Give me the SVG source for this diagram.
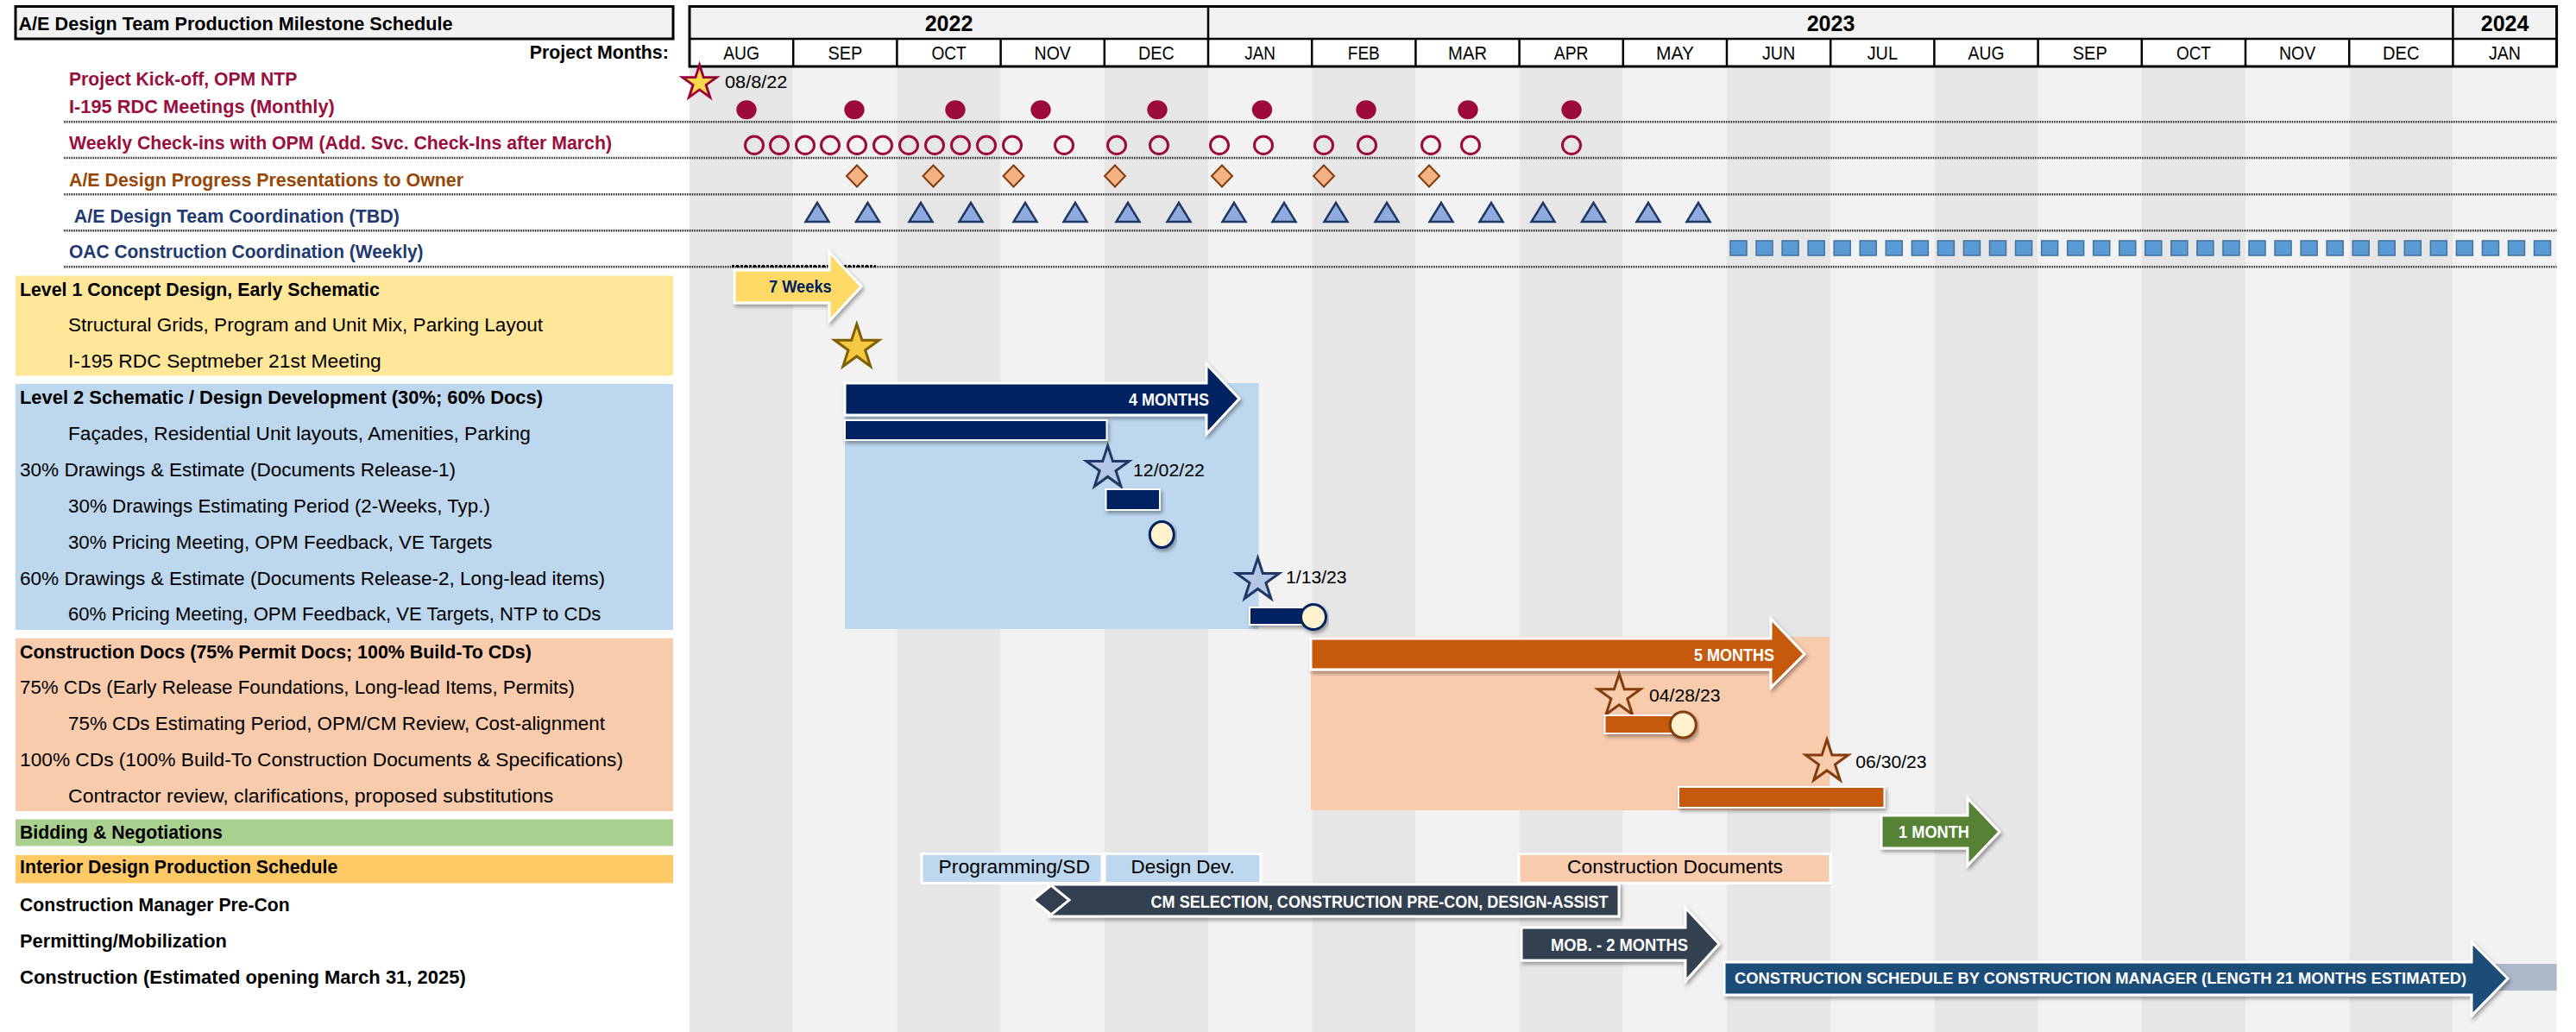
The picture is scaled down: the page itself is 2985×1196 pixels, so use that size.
<svg xmlns="http://www.w3.org/2000/svg" xmlns:xlink="http://www.w3.org/1999/xlink" width="2985" height="1196" viewBox="0 0 2985 1196">
<style>
text{font-family:'Liberation Sans Narrow','Liberation Sans',Arial,sans-serif;font-size:22px;fill:#000}
.b{font-weight:700}
.yr{font-size:25px;font-weight:700}
.dt{font-size:20px}
.wt{fill:#fff;font-weight:700;font-size:20px}
.crim{fill:#9a0f3e}
.brn{fill:#974706}
.nav{fill:#1f3a70}
.sep{stroke:#1a1a1a;stroke-width:2.5;stroke-dasharray:1 1;fill:none}
.arr{stroke:#fff;stroke-width:3;filter:url(#sh)}
.bar{stroke:#fff;stroke-width:2;filter:url(#sh)}
.mc{fill:#9b0a3a}
.wc{fill:none;stroke:#9b0a3a;stroke-width:3}
.dia{fill:#f4b183;stroke:#843c0c;stroke-width:2}
.tri{fill:#8faadc;stroke:#1f3864;stroke-width:2.5}
.sq{fill:#5b9bd5;stroke:#41719c;stroke-width:1.5}
.dk{fill:#e6e6e6}
.lt{fill:#f2f2f2}
</style>
<defs>
<filter id="sh" x="-10%" y="-30%" width="120%" height="170%">
<feDropShadow dx="2" dy="3" stdDeviation="2" flood-color="#000" flood-opacity="0.35"/>
</filter>
<path id="star" d="M0,-26 L5.84,-8.03 L24.73,-8.03 L9.45,3.07 L15.29,21.03 L0,9.93 L-15.29,21.03 L-9.45,3.07 L-24.73,-8.03 L-5.84,-8.03 Z"/>
</defs>
<rect width="2985" height="1196" fill="#fff"/>

<g id="columns">
<rect class="dk" x="799" y="77" width="120.2" height="1119"/>
<rect class="lt" x="919.2" y="77" width="120.2" height="1119"/>
<rect class="dk" x="1039.4" y="77" width="120.2" height="1119"/>
<rect class="lt" x="1159.6" y="77" width="120.2" height="1119"/>
<rect class="dk" x="1279.8" y="77" width="120.2" height="1119"/>
<rect class="lt" x="1400" y="77" width="120.2" height="1119"/>
<rect class="dk" x="1520.2" y="77" width="120.2" height="1119"/>
<rect class="lt" x="1640.4" y="77" width="120.2" height="1119"/>
<rect class="dk" x="1760.6" y="77" width="120.2" height="1119"/>
<rect class="lt" x="1880.8" y="77" width="120.2" height="1119"/>
<rect class="dk" x="2001" y="77" width="120.2" height="1119"/>
<rect class="lt" x="2121.2" y="77" width="120.2" height="1119"/>
<rect class="dk" x="2241.4" y="77" width="120.2" height="1119"/>
<rect class="lt" x="2361.6" y="77" width="120.2" height="1119"/>
<rect class="dk" x="2481.8" y="77" width="120.2" height="1119"/>
<rect class="lt" x="2602" y="77" width="120.2" height="1119"/>
<rect class="dk" x="2722.2" y="77" width="120.2" height="1119"/>
<rect class="lt" x="2842.4" y="77" width="120.2" height="1119"/>
</g>

<g id="title">
<rect x="18" y="7.5" width="762" height="37.5" fill="#f2f2f2" stroke="#000" stroke-width="3"/>
<text class="b" x="21.5" y="35" textLength="503" lengthAdjust="spacingAndGlyphs">A/E Design Team Production Milestone Schedule</text>
<text class="b" x="613.8" y="68" textLength="161" lengthAdjust="spacingAndGlyphs">Project Months:</text>
</g>

<g id="header">
<rect x="799" y="7.5" width="2163.6" height="37.5" fill="#f2f2f2"/>
<rect x="799" y="45" width="2163.6" height="32" fill="#fff"/>
<g stroke="#000" stroke-width="2.5">
<line x1="1400" y1="7" x2="1400" y2="45"/>
<line x1="2842.4" y1="7" x2="2842.4" y2="45"/>
<line x1="799" y1="45" x2="2962.6" y2="45"/>
<line x1="919.2" y1="45" x2="919.2" y2="77"/>
<line x1="1039.4" y1="45" x2="1039.4" y2="77"/>
<line x1="1159.6" y1="45" x2="1159.6" y2="77"/>
<line x1="1279.8" y1="45" x2="1279.8" y2="77"/>
<line x1="1400" y1="45" x2="1400" y2="77"/>
<line x1="1520.2" y1="45" x2="1520.2" y2="77"/>
<line x1="1640.4" y1="45" x2="1640.4" y2="77"/>
<line x1="1760.6" y1="45" x2="1760.6" y2="77"/>
<line x1="1880.8" y1="45" x2="1880.8" y2="77"/>
<line x1="2001" y1="45" x2="2001" y2="77"/>
<line x1="2121.2" y1="45" x2="2121.2" y2="77"/>
<line x1="2241.4" y1="45" x2="2241.4" y2="77"/>
<line x1="2361.6" y1="45" x2="2361.6" y2="77"/>
<line x1="2481.8" y1="45" x2="2481.8" y2="77"/>
<line x1="2602" y1="45" x2="2602" y2="77"/>
<line x1="2722.2" y1="45" x2="2722.2" y2="77"/>
<line x1="2842.4" y1="45" x2="2842.4" y2="77"/>
</g>
<rect x="799" y="7.5" width="2163.6" height="69.5" fill="none" stroke="#000" stroke-width="3"/>
<text class="yr" x="1071.7" y="36" textLength="55.6" lengthAdjust="spacingAndGlyphs">2022</text>
<text class="yr" x="2093.7" y="36" textLength="55.6" lengthAdjust="spacingAndGlyphs">2023</text>
<text class="yr" x="2874.8" y="36" textLength="55.6" lengthAdjust="spacingAndGlyphs">2024</text>
<text x="838.2" y="68.5" textLength="41.8" lengthAdjust="spacingAndGlyphs">AUG</text>
<text x="959.4" y="68.5" textLength="39.8" lengthAdjust="spacingAndGlyphs">SEP</text>
<text x="1079.4" y="68.5" textLength="40.3" lengthAdjust="spacingAndGlyphs">OCT</text>
<text x="1198.6" y="68.5" textLength="42.3" lengthAdjust="spacingAndGlyphs">NOV</text>
<text x="1319" y="68.5" textLength="41.8" lengthAdjust="spacingAndGlyphs">DEC</text>
<text x="1442.3" y="68.5" textLength="35.7" lengthAdjust="spacingAndGlyphs">JAN</text>
<text x="1561.8" y="68.5" textLength="37" lengthAdjust="spacingAndGlyphs">FEB</text>
<text x="1678.1" y="68.5" textLength="44.9" lengthAdjust="spacingAndGlyphs">MAR</text>
<text x="1800.8" y="68.5" textLength="39.8" lengthAdjust="spacingAndGlyphs">APR</text>
<text x="1919" y="68.5" textLength="43.9" lengthAdjust="spacingAndGlyphs">MAY</text>
<text x="2042" y="68.5" textLength="38.3" lengthAdjust="spacingAndGlyphs">JUN</text>
<text x="2163.7" y="68.5" textLength="35.2" lengthAdjust="spacingAndGlyphs">JUL</text>
<text x="2280.6" y="68.5" textLength="41.8" lengthAdjust="spacingAndGlyphs">AUG</text>
<text x="2401.8" y="68.5" textLength="39.9" lengthAdjust="spacingAndGlyphs">SEP</text>
<text x="2522" y="68.5" textLength="39.9" lengthAdjust="spacingAndGlyphs">OCT</text>
<text x="2640.9" y="68.5" textLength="42.4" lengthAdjust="spacingAndGlyphs">NOV</text>
<text x="2761.1" y="68.5" textLength="42.4" lengthAdjust="spacingAndGlyphs">DEC</text>
<text x="2884" y="68.5" textLength="37" lengthAdjust="spacingAndGlyphs">JAN</text>
</g>

<g id="section-bgs">
<rect x="18" y="319.5" width="762" height="116" fill="#ffe699"/>
<rect x="18" y="445" width="762" height="285" fill="#bdd7ee"/>
<rect x="18" y="739.5" width="762" height="200.5" fill="#f8cbad"/>
<rect x="18" y="949.5" width="762" height="31" fill="#a9d08e"/>
<rect x="18" y="991" width="762" height="32.5" fill="#ffc966"/>
<rect x="979" y="444" width="479.6" height="285" fill="#bdd7ee"/>
<rect x="1519" y="738" width="601" height="201" fill="#f8cbad"/>
</g>

<g id="separators">
<line class="sep" x1="74" y1="141.3" x2="2962.6" y2="141.3"/>
<line class="sep" x1="74" y1="183" x2="2962.6" y2="183"/>
<line class="sep" x1="74" y1="225.3" x2="2962.6" y2="225.3"/>
<line class="sep" x1="74" y1="267.3" x2="2962.6" y2="267.3"/>
<line class="sep" x1="74" y1="309.3" x2="2962.6" y2="309.3"/>
<line x1="848" y1="308.5" x2="1015" y2="308.5" stroke="#111" stroke-width="3" stroke-dasharray="3 2"/>
</g>

<g id="labels">
<text class="b crim" x="80" y="99.3" textLength="264.4" lengthAdjust="spacingAndGlyphs">Project Kick-off, OPM NTP</text>
<text class="b crim" x="80" y="131" textLength="307.8" lengthAdjust="spacingAndGlyphs">I-195 RDC Meetings (Monthly)</text>
<text class="b crim" x="80" y="173.3" textLength="629" lengthAdjust="spacingAndGlyphs">Weekly Check-ins with OPM (Add. Svc. Check-Ins after March)</text>
<text class="b brn" x="80" y="215.7" textLength="457" lengthAdjust="spacingAndGlyphs">A/E Design Progress Presentations to Owner</text>
<text class="b nav" x="85.7" y="257.7" textLength="377.3" lengthAdjust="spacingAndGlyphs">A/E Design Team Coordination (TBD)</text>
<text class="b nav" x="80" y="299.3" textLength="410.6" lengthAdjust="spacingAndGlyphs">OAC Construction Coordination (Weekly)</text>
<text class="b" x="23" y="342.7" textLength="416.8" lengthAdjust="spacingAndGlyphs">Level 1 Concept Design, Early Schematic</text>
<text x="79" y="384" textLength="550" lengthAdjust="spacingAndGlyphs">Structural Grids, Program and Unit Mix, Parking Layout</text>
<text x="79" y="426" textLength="362.8" lengthAdjust="spacingAndGlyphs">I-195 RDC Septmeber 21st Meeting</text>
<text class="b" x="23" y="468.3" textLength="606" lengthAdjust="spacingAndGlyphs">Level 2 Schematic / Design Development (30%; 60% Docs)</text>
<text x="79" y="510" textLength="535.8" lengthAdjust="spacingAndGlyphs">Façades, Residential Unit layouts, Amenities, Parking</text>
<text x="23" y="551.7" textLength="505" lengthAdjust="spacingAndGlyphs">30% Drawings &amp; Estimate (Documents Release-1)</text>
<text x="79" y="594" textLength="488.9" lengthAdjust="spacingAndGlyphs">30% Drawings Estimating Period (2-Weeks, Typ.)</text>
<text x="79" y="636" textLength="491.4" lengthAdjust="spacingAndGlyphs">30% Pricing Meeting, OPM Feedback, VE Targets</text>
<text x="23" y="678.3" textLength="678" lengthAdjust="spacingAndGlyphs">60% Drawings &amp; Estimate (Documents Release-2, Long-lead items)</text>
<text x="79" y="719.3" textLength="617.4" lengthAdjust="spacingAndGlyphs">60% Pricing Meeting, OPM Feedback, VE Targets, NTP to CDs</text>
<text class="b" x="23" y="762.7" textLength="592.8" lengthAdjust="spacingAndGlyphs">Construction Docs (75% Permit Docs; 100% Build-To CDs)</text>
<text x="23" y="804" textLength="642.8" lengthAdjust="spacingAndGlyphs">75% CDs (Early Release Foundations, Long-lead Items, Permits)</text>
<text x="79" y="846" textLength="622" lengthAdjust="spacingAndGlyphs">75% CDs Estimating Period, OPM/CM Review, Cost-alignment</text>
<text x="23" y="887.7" textLength="699" lengthAdjust="spacingAndGlyphs">100% CDs (100% Build-To Construction Documents &amp; Specifications)</text>
<text x="79" y="930" textLength="562.3" lengthAdjust="spacingAndGlyphs">Contractor review, clarifications, proposed substitutions</text>
<text class="b" x="23" y="971.7" textLength="234.7" lengthAdjust="spacingAndGlyphs">Bidding &amp; Negotiations</text>
<text class="b" x="23" y="1011.7" textLength="368.3" lengthAdjust="spacingAndGlyphs">Interior Design Production Schedule</text>
<text class="b" x="23" y="1056" textLength="312.7" lengthAdjust="spacingAndGlyphs">Construction Manager Pre-Con</text>
<text class="b" x="23" y="1098.3" textLength="239.8" lengthAdjust="spacingAndGlyphs">Permitting/Mobilization</text>
<text class="b" x="23" y="1140" textLength="516.8" lengthAdjust="spacingAndGlyphs">Construction (Estimated opening March 31, 2025)</text>
</g>

<g id="kickoff">
<use xlink:href="#star" href="#star" transform="translate(810.6,96) scale(0.8)" fill="#f9d84a" stroke="#99003a" stroke-width="3.6"/>
<text class="dt" x="840" y="101.7" textLength="72.4" lengthAdjust="spacingAndGlyphs">08/8/22</text>
</g>

<g id="monthly-meetings">
<ellipse class="mc" cx="865" cy="127.3" rx="11.7" ry="11"/>
<ellipse class="mc" cx="990" cy="127.3" rx="11.7" ry="11"/>
<ellipse class="mc" cx="1107" cy="127.3" rx="11.7" ry="11"/>
<ellipse class="mc" cx="1206" cy="127.3" rx="11.7" ry="11"/>
<ellipse class="mc" cx="1341" cy="127.3" rx="11.7" ry="11"/>
<ellipse class="mc" cx="1462.5" cy="127.3" rx="11.7" ry="11"/>
<ellipse class="mc" cx="1583" cy="127.3" rx="11.7" ry="11"/>
<ellipse class="mc" cx="1701" cy="127.3" rx="11.7" ry="11"/>
<ellipse class="mc" cx="1821" cy="127.3" rx="11.7" ry="11"/>
</g>

<g id="weekly-checkins">
<ellipse class="wc" cx="874" cy="168.3" rx="10.5" ry="10.2"/>
<ellipse class="wc" cx="903" cy="168.3" rx="10.5" ry="10.2"/>
<ellipse class="wc" cx="933" cy="168.3" rx="10.5" ry="10.2"/>
<ellipse class="wc" cx="962" cy="168.3" rx="10.5" ry="10.2"/>
<ellipse class="wc" cx="993" cy="168.3" rx="10.5" ry="10.2"/>
<ellipse class="wc" cx="1023" cy="168.3" rx="10.5" ry="10.2"/>
<ellipse class="wc" cx="1053" cy="168.3" rx="10.5" ry="10.2"/>
<ellipse class="wc" cx="1083" cy="168.3" rx="10.5" ry="10.2"/>
<ellipse class="wc" cx="1113" cy="168.3" rx="10.5" ry="10.2"/>
<ellipse class="wc" cx="1143" cy="168.3" rx="10.5" ry="10.2"/>
<ellipse class="wc" cx="1173" cy="168.3" rx="10.5" ry="10.2"/>
<ellipse class="wc" cx="1233" cy="168.3" rx="10.5" ry="10.2"/>
<ellipse class="wc" cx="1294" cy="168.3" rx="10.5" ry="10.2"/>
<ellipse class="wc" cx="1343" cy="168.3" rx="10.5" ry="10.2"/>
<ellipse class="wc" cx="1413" cy="168.3" rx="10.5" ry="10.2"/>
<ellipse class="wc" cx="1464" cy="168.3" rx="10.5" ry="10.2"/>
<ellipse class="wc" cx="1534" cy="168.3" rx="10.5" ry="10.2"/>
<ellipse class="wc" cx="1584" cy="168.3" rx="10.5" ry="10.2"/>
<ellipse class="wc" cx="1658" cy="168.3" rx="10.5" ry="10.2"/>
<ellipse class="wc" cx="1704" cy="168.3" rx="10.5" ry="10.2"/>
<ellipse class="wc" cx="1821" cy="168.3" rx="10.5" ry="10.2"/>
</g>

<g id="presentations">
<polygon class="dia" points="993,191.5 1005,204 993,216.5 981,204"/>
<polygon class="dia" points="1081.5,191.5 1093.5,204 1081.5,216.5 1069.5,204"/>
<polygon class="dia" points="1174.5,191.5 1186.5,204 1174.5,216.5 1162.5,204"/>
<polygon class="dia" points="1292,191.5 1304,204 1292,216.5 1280,204"/>
<polygon class="dia" points="1416,191.5 1428,204 1416,216.5 1404,204"/>
<polygon class="dia" points="1534,191.5 1546,204 1534,216.5 1522,204"/>
<polygon class="dia" points="1656,191.5 1668,204 1656,216.5 1644,204"/>
</g>

<g id="team-coordination">
<polygon class="tri" points="947,235 960.5,257 933.5,257"/>
<polygon class="tri" points="1005.5,235 1019,257 992,257"/>
<polygon class="tri" points="1067,235 1080.5,257 1053.5,257"/>
<polygon class="tri" points="1125,235 1138.5,257 1111.5,257"/>
<polygon class="tri" points="1188,235 1201.5,257 1174.5,257"/>
<polygon class="tri" points="1246,235 1259.5,257 1232.5,257"/>
<polygon class="tri" points="1307,235 1320.5,257 1293.5,257"/>
<polygon class="tri" points="1366,235 1379.5,257 1352.5,257"/>
<polygon class="tri" points="1430,235 1443.5,257 1416.5,257"/>
<polygon class="tri" points="1488,235 1501.5,257 1474.5,257"/>
<polygon class="tri" points="1548,235 1561.5,257 1534.5,257"/>
<polygon class="tri" points="1607,235 1620.5,257 1593.5,257"/>
<polygon class="tri" points="1670,235 1683.5,257 1656.5,257"/>
<polygon class="tri" points="1728,235 1741.5,257 1714.5,257"/>
<polygon class="tri" points="1788,235 1801.5,257 1774.5,257"/>
<polygon class="tri" points="1846.5,235 1860,257 1833,257"/>
<polygon class="tri" points="1910,235 1923.5,257 1896.5,257"/>
<polygon class="tri" points="1968,235 1981.5,257 1954.5,257"/>
</g>

<g id="oac-weekly">
<rect class="sq" x="2005" y="279" width="19" height="17"/>
<rect class="sq" x="2035.05" y="279" width="19" height="17"/>
<rect class="sq" x="2065.1" y="279" width="19" height="17"/>
<rect class="sq" x="2095.15" y="279" width="19" height="17"/>
<rect class="sq" x="2125.2" y="279" width="19" height="17"/>
<rect class="sq" x="2155.25" y="279" width="19" height="17"/>
<rect class="sq" x="2185.3" y="279" width="19" height="17"/>
<rect class="sq" x="2215.35" y="279" width="19" height="17"/>
<rect class="sq" x="2245.4" y="279" width="19" height="17"/>
<rect class="sq" x="2275.45" y="279" width="19" height="17"/>
<rect class="sq" x="2305.5" y="279" width="19" height="17"/>
<rect class="sq" x="2335.55" y="279" width="19" height="17"/>
<rect class="sq" x="2365.6" y="279" width="19" height="17"/>
<rect class="sq" x="2395.65" y="279" width="19" height="17"/>
<rect class="sq" x="2425.7" y="279" width="19" height="17"/>
<rect class="sq" x="2455.75" y="279" width="19" height="17"/>
<rect class="sq" x="2485.8" y="279" width="19" height="17"/>
<rect class="sq" x="2515.85" y="279" width="19" height="17"/>
<rect class="sq" x="2545.9" y="279" width="19" height="17"/>
<rect class="sq" x="2575.95" y="279" width="19" height="17"/>
<rect class="sq" x="2606" y="279" width="19" height="17"/>
<rect class="sq" x="2636.05" y="279" width="19" height="17"/>
<rect class="sq" x="2666.1" y="279" width="19" height="17"/>
<rect class="sq" x="2696.15" y="279" width="19" height="17"/>
<rect class="sq" x="2726.2" y="279" width="19" height="17"/>
<rect class="sq" x="2756.25" y="279" width="19" height="17"/>
<rect class="sq" x="2786.3" y="279" width="19" height="17"/>
<rect class="sq" x="2816.35" y="279" width="19" height="17"/>
<rect class="sq" x="2846.4" y="279" width="19" height="17"/>
<rect class="sq" x="2876.45" y="279" width="19" height="17"/>
<rect class="sq" x="2906.5" y="279" width="19" height="17"/>
<rect class="sq" x="2936.55" y="279" width="19" height="17"/>
</g>

<g id="level1">
<polygon class="arr" points="851,313 961,313 961,292 998,332 961,372 961,351 851,351" fill="#ffd966"/>
<text class="b" x="891" y="339.3" font-size="20" fill="#002060" style="fill:#002060;font-size:20px" textLength="72.7" lengthAdjust="spacingAndGlyphs">7 Weeks</text>
<use xlink:href="#star" href="#star" transform="translate(992.8,402.6) scale(1.04)" fill="#f7c843" stroke="#7f6000" stroke-width="2.9"/>
</g>

<g id="level2">
<polygon class="arr" points="979,444 1398,444 1398,422 1436,462 1398,503 1398,481 979,481" fill="#002060"/>
<text class="wt" x="1308" y="470" textLength="93" lengthAdjust="spacingAndGlyphs">4 MONTHS</text>
<rect class="bar" x="979" y="487" width="303.5" height="23" fill="#002060"/>
<use xlink:href="#star" href="#star" transform="translate(1283.6,542.5)" fill="#b4c7e7" stroke="#203864" stroke-width="3"/>
<text class="dt" x="1313" y="552.3" textLength="82.8" lengthAdjust="spacingAndGlyphs">12/02/22</text>
<rect class="bar" x="1281.5" y="567" width="62.5" height="24" fill="#002060"/>
<ellipse cx="1346.3" cy="619.5" rx="14" ry="15" fill="#fff2cc" stroke="#002060" stroke-width="3" filter="url(#sh)"/>
<use xlink:href="#star" href="#star" transform="translate(1457.5,672.5)" fill="#b4c7e7" stroke="#203864" stroke-width="3"/>
<text class="dt" x="1490" y="676" textLength="70.6" lengthAdjust="spacingAndGlyphs">1/13/23</text>
<rect class="bar" x="1448" y="704" width="67" height="20" fill="#002060"/>
<ellipse cx="1522" cy="715" rx="14.5" ry="14.5" fill="#fff2cc" stroke="#002060" stroke-width="3" filter="url(#sh)"/>
</g>

<g id="construction-docs">
<polygon class="arr" points="1519,740 2052,740 2052,717 2091,758 2052,797 2052,776 1519,776" fill="#c55a11"/>
<text class="wt" x="1963" y="765.7" textLength="93" lengthAdjust="spacingAndGlyphs">5 MONTHS</text>
<use xlink:href="#star" href="#star" transform="translate(1876.3,806.8)" fill="#f8cbad" stroke="#843c0c" stroke-width="3"/>
<text class="dt" x="1911" y="813.3" textLength="82.5" lengthAdjust="spacingAndGlyphs">04/28/23</text>
<rect class="bar" x="1859.5" y="829" width="85.5" height="21" fill="#c55a11"/>
<ellipse cx="1950.3" cy="840" rx="15" ry="15" fill="#fff2cc" stroke="#843c0c" stroke-width="3" filter="url(#sh)"/>
<use xlink:href="#star" href="#star" transform="translate(2117,883)" fill="#f8cbad" stroke="#843c0c" stroke-width="3"/>
<text class="dt" x="2150.3" y="890" textLength="82.2" lengthAdjust="spacingAndGlyphs">06/30/23</text>
<rect class="bar" x="1945" y="912" width="238.5" height="24" fill="#c55a11"/>
</g>

<g id="bidding">
<polygon class="arr" points="2180,945 2280,945 2280,925 2317,964 2280,1003 2280,983 2180,983" fill="#548235"/>
<text class="wt" x="2200" y="971" textLength="82" lengthAdjust="spacingAndGlyphs">1 MONTH</text>
</g>

<g id="interior-design">
<rect x="1068" y="989.5" width="209" height="34" fill="#bdd7ee" stroke="#fff" stroke-width="3"/>
<text x="1087.6" y="1011.7" textLength="175.4" lengthAdjust="spacingAndGlyphs">Programming/SD</text>
<rect x="1280" y="989.5" width="181" height="34" fill="#bdd7ee" stroke="#fff" stroke-width="3"/>
<text x="1310.6" y="1011.7" textLength="120" lengthAdjust="spacingAndGlyphs">Design Dev.</text>
<rect x="1760" y="989.5" width="361" height="34" fill="#f8cbad" stroke="#fff" stroke-width="3"/>
<text x="1816" y="1011.7" textLength="250" lengthAdjust="spacingAndGlyphs">Construction Documents</text>
</g>

<g id="cm-precon">
<rect class="arr" x="1216" y="1025" width="660" height="37" fill="#333f50"/>
<polygon points="1197,1043 1218,1026 1239,1043 1218,1060" fill="#333f50" stroke="#fff" stroke-width="3"/>
<text class="wt" x="1333.6" y="1051.7" textLength="530" lengthAdjust="spacingAndGlyphs">CM SELECTION, CONSTRUCTION PRE-CON, DESIGN-ASSIST</text>
</g>

<g id="mobilization">
<polygon class="arr" points="1763,1075 1953,1075 1953,1052 1992,1094 1953,1137 1953,1113 1763,1113" fill="#333f50"/>
<text class="wt" x="1797" y="1101.7" textLength="159" lengthAdjust="spacingAndGlyphs">MOB. - 2 MONTHS</text>
</g>

<g id="construction">
<rect x="2862" y="1117" width="100.6" height="31" fill="#adb9ca"/>
<polygon class="arr" points="1998,1115 2864,1115 2864,1092 2906,1134 2864,1177 2864,1153 1998,1153" fill="#1f4e79"/>
<text class="wt" x="2010" y="1140" style="font-size:19px" textLength="848" lengthAdjust="spacingAndGlyphs">CONSTRUCTION SCHEDULE BY CONSTRUCTION MANAGER (LENGTH 21 MONTHS ESTIMATED)</text>
</g>
</svg>
